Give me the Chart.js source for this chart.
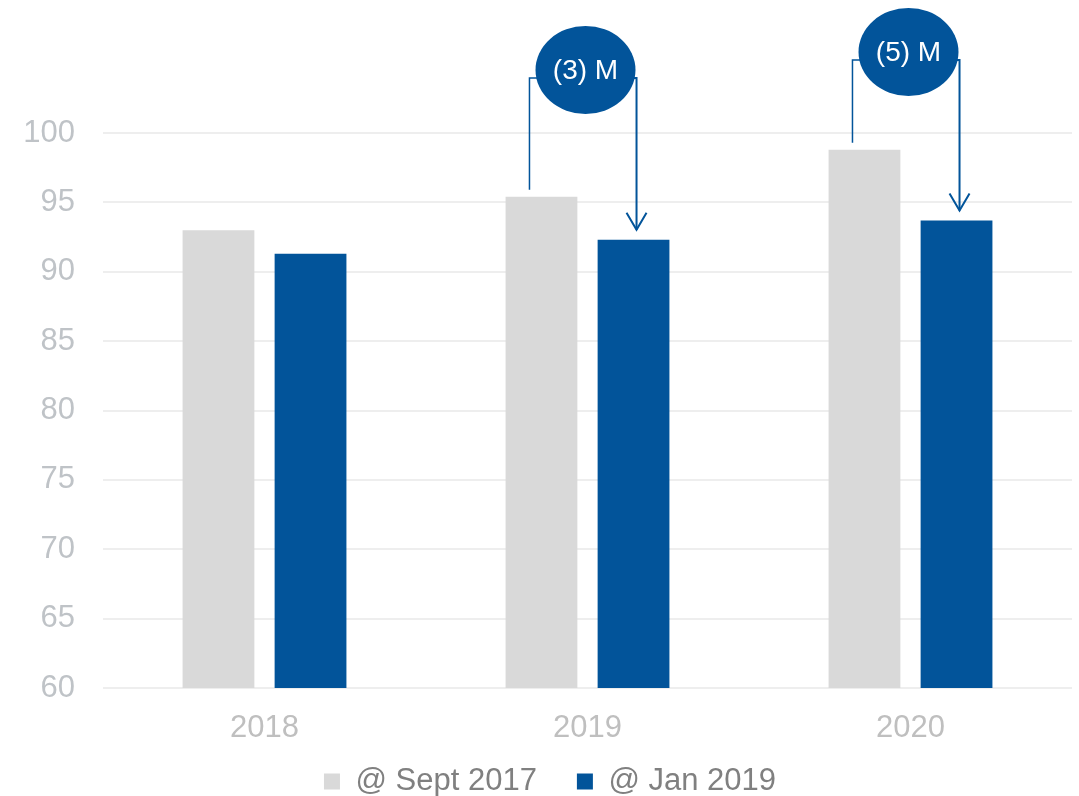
<!DOCTYPE html>
<html>
<head>
<meta charset="utf-8">
<script src="https://cdn.jsdelivr.net/npm/chart.js@4"></script>
<style>
  html, body { margin: 0; padding: 0; background: #ffffff; }
  #wrap { width: 1079px; height: 796px; }
</style>
</head>
<body>
<div id="wrap"><canvas id="myChart" width="1079" height="796"></canvas></div>
<script>
// data
const years = ['2018', '2019', '2020'];
const sept2017 = [93.0, 95.4, 98.8];
const jan2019 = [91.3, 92.3, 93.7];
const changeLabels = ['', '(3) M', '(5) M'];
const seriesNames = ['@ Sept 2017', '@ Jan 2019'];

const greyCol = '#d9d9d9';
const blueCol = '#02549a';

Chart.defaults.font.family = "'Liberation Sans', Arial, sans-serif";

// legend sits lower than Chart.js would put it: trim its box and nudge the drawing
const trimLegend = {
    id: 'trimLegend',
    beforeLayout(chart) {
        const lg = chart.legend;
        if (lg && !lg._trimmed) {
            const origFit = lg.fit.bind(lg);
            const origDraw = lg.draw.bind(lg);
            lg.fit = function () {
                origFit();
                this.height = 48;
            };
            lg.draw = function () {
                const t = this.top, l = this.left, r = this.right;
                this.top = t - 22;
                this.left = l + 14;
                this.right = r + 14;
                origDraw();
                this.top = t;
                this.left = l;
                this.right = r;
            };
            lg._trimmed = true;
        }
    }
};

// bubbles with bracket arrows between the two bars of a year
const annotate = {
    id: 'annotate',
    afterDatasetsDraw(chart, args, opts) {
        const ctx = chart.ctx;
        const greyBars = chart.getDatasetMeta(0).data;
        const blueBars = chart.getDatasetMeta(1).data;
        changeLabels.forEach((txt, i) => {
            if (!txt) return;
            const g = greyBars[i], b = blueBars[i];
            const cx = (g.x + b.x) / 2;
            const cy = chart.chartArea.top - opts.lift[i];
            const joinY = cy + 8;
            ctx.save();
            ctx.strokeStyle = blueCol;

            // left bracket from grey bar up to bubble
            ctx.lineWidth = 1.5;
            ctx.beginPath();
            ctx.moveTo(g.x - 12, g.y - 7);
            ctx.lineTo(g.x - 12, joinY);
            ctx.lineTo(cx - 40, joinY);
            ctx.stroke();

            // right arrow from bubble down to blue bar
            const ax = b.x + 3;
            const tipY = b.y - 10;
            ctx.lineWidth = 2;
            ctx.beginPath();
            ctx.moveTo(cx + 40, joinY);
            ctx.lineTo(ax, joinY);
            ctx.lineTo(ax, tipY);
            ctx.stroke();
            ctx.beginPath();
            ctx.moveTo(ax - 10, tipY - 17);
            ctx.lineTo(ax, tipY);
            ctx.lineTo(ax + 10, tipY - 17);
            ctx.stroke();

            // bubble
            ctx.fillStyle = blueCol;
            ctx.beginPath();
            ctx.ellipse(cx - 2, cy, 50, 44, 0, 0, Math.PI * 2);
            ctx.fill();
            ctx.fillStyle = '#ffffff';
            ctx.font = "28px 'Liberation Sans', Arial, sans-serif";
            ctx.textAlign = 'center';
            ctx.textBaseline = 'middle';
            ctx.fillText(txt, cx - 2, cy + 1);
            ctx.restore();
        });
    }
};

const ctx = document.getElementById('myChart').getContext('2d');
new Chart(ctx, {
    type: 'bar',
    data: {
        labels: years,
        datasets: [{
            label: seriesNames[0],
            data: sept2017,
            backgroundColor: greyCol,
            borderWidth: 0
        }, {
            label: seriesNames[1],
            data: jan2019,
            backgroundColor: blueCol,
            borderWidth: 0
        }]
    },
    options: {
        responsive: false,
        animation: false,
        barPercentage: 0.78,
        categoryPercentage: 0.57,
        layout: {
            padding: { top: 133, right: 7, left: 0, bottom: 0 }
        },
        scales: {
            x: {
                grid: { display: false, drawTicks: false },
                border: { display: false },
                ticks: {
                    color: '#bfbfbf',
                    font: { size: 31 },
                    padding: 22
                },
                afterFit(scale) { scale.height = 60; }
            },
            y: {
                min: 60,
                max: 100,
                border: { display: false },
                grid: { color: '#eeeeee', lineWidth: 2, drawTicks: false },
                ticks: {
                    stepSize: 5,
                    color: '#bfc3c7',
                    font: { size: 31 },
                    padding: 28
                },
                afterFit(scale) { scale.width = 103; }
            }
        },
        plugins: {
            legend: {
                position: 'bottom',
                labels: {
                    boxWidth: 16,
                    boxHeight: 16,
                    padding: 40,
                    color: '#808080',
                    font: { size: 31 }
                }
            },
            tooltip: { enabled: false },
            annotate: { lift: [0, 63, 81] }
        }
    },
    plugins: [trimLegend, annotate]
});
</script>
</body>
</html>
